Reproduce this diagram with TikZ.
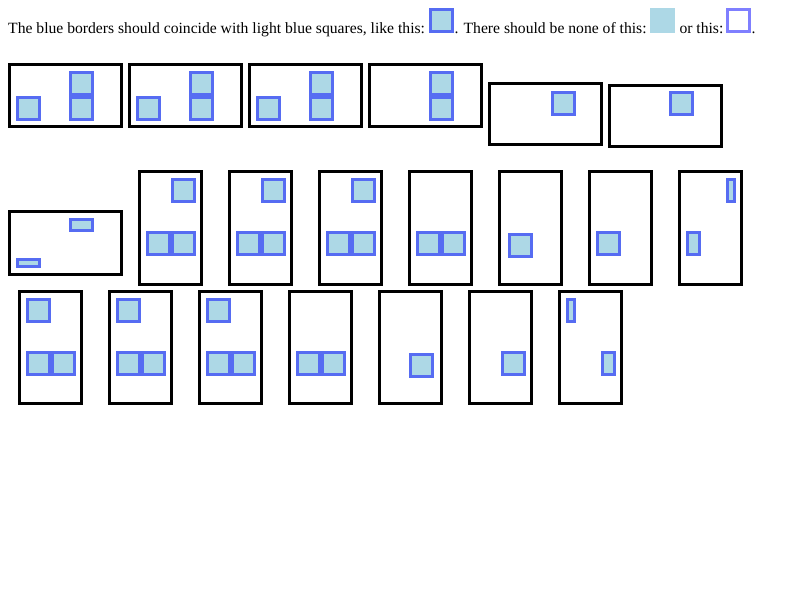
\documentclass[tikz,border=0pt]{standalone}
\usepackage{fontspec}
\setmainfont{Liberation Serif}
\definecolor{lightbluefill}{RGB}{173,216,230}
\definecolor{cellborder}{RGB}{86,108,242}
\definecolor{paleborder}{RGB}{127,127,255}
\tikzset{
  frame/.style={draw=black, line width=3pt},
  cell/.style={draw=cellborder, fill=lightbluefill, line width=3pt},
  plainfill/.style={fill=lightbluefill},
  hollow/.style={draw=paleborder, fill=white, line width=3pt},
  caption/.style={anchor=base west, inner sep=0pt, font=\fontsize{15.65}{19}\selectfont}
}
% outer edges given; the stroke sits inside them
\newcommand\outerbox[5]{\draw[#1] ({#2+1.5},{#3+1.5}) rectangle ({#4-1.5},{#5-1.5});}
\newcommand\frm[4]{\outerbox{frame}{#1}{#2}{#3}{#4}}
\newcommand\cel[4]{\outerbox{cell}{#1}{#2}{#3}{#4}}
\newcommand\sqc[2]{\cel{#1}{#2}{#1+25}{#2+25}}
\begin{document}
\begin{tikzpicture}[x=1pt, y=-1pt]
\useasboundingbox[fill=white] (0,0) rectangle (800,600);

% caption line
\node[caption] (t1) at (8,33.3) {The blue borders should coincide with light blue squares, like this:};
\sqc{429}{8}
\node[caption] (t2) at (454.3,33.3) {. There should be none of this:};
\fill[plainfill] (650,8) rectangle (675,33);
\node[caption] (t3) at (679.3,33.3) {or this:};
\outerbox{hollow}{726}{8}{751}{33}
\node[caption] (t4) at (751.5,33.3) {.};

% row 1
\frm{8.3}{63.3}{123.3}{128.3}
\sqc{16}{96} \sqc{69}{70.7} \sqc{69}{95.7}
\frm{128.3}{63.3}{243.3}{128.3}
\sqc{136}{96} \sqc{189}{70.7} \sqc{189}{95.7}
\frm{248.3}{63.3}{363.3}{128.3}
\sqc{256}{96} \sqc{309}{70.7} \sqc{309}{95.7}
\frm{368.3}{63.3}{483.3}{128.3}
\sqc{429}{70.7} \sqc{429}{95.7}
\frm{488.3}{81.7}{603.3}{146.3}
\sqc{551}{91}
\frm{608.3}{83.7}{723.3}{148.3}
\sqc{669}{91}

% row 2
\frm{8.3}{210.3}{123.3}{275.7}
\cel{69}{218}{93.7}{232.3}
\cel{16}{258}{40.7}{267.7}
\frm{138.3}{170.3}{203.3}{286}
\sqc{171}{178} \sqc{146}{231} \sqc{171}{231}
\frm{228.3}{170.3}{293.3}{286}
\sqc{261}{178} \sqc{236}{231} \sqc{261}{231}
\frm{318.3}{170.3}{383.3}{286}
\sqc{351}{178} \sqc{326}{231} \sqc{351}{231}
\frm{408.3}{170.3}{473.3}{286}
\sqc{416}{231} \sqc{441}{231}
\frm{498.3}{170.3}{563.3}{286}
\sqc{508}{233}
\frm{588.3}{170.3}{653.3}{286}
\sqc{596}{231}
\frm{678.3}{170.3}{743.3}{286}
\cel{726}{178}{735.7}{202.7}
\cel{686}{231}{701}{255.7}

% row 3
\frm{18.3}{290.3}{83.3}{405.3}
\sqc{26}{298} \sqc{26}{351} \sqc{51}{351}
\frm{108.3}{290.3}{173.3}{405.3}
\sqc{116}{298} \sqc{116}{351} \sqc{141}{351}
\frm{198.3}{290.3}{263.3}{405.3}
\sqc{206}{298} \sqc{206}{351} \sqc{231}{351}
\frm{288.3}{290.3}{353.3}{405.3}
\sqc{296}{351} \sqc{321}{351}
\frm{378.3}{290.3}{443.3}{405.3}
\sqc{409}{353}
\frm{468.3}{290.3}{533.3}{405.3}
\sqc{501}{351}
\frm{558.3}{290.3}{623.3}{405.3}
\cel{566}{298}{576}{322.7}
\cel{601}{351}{616}{375.7}
\end{tikzpicture}
\end{document}
